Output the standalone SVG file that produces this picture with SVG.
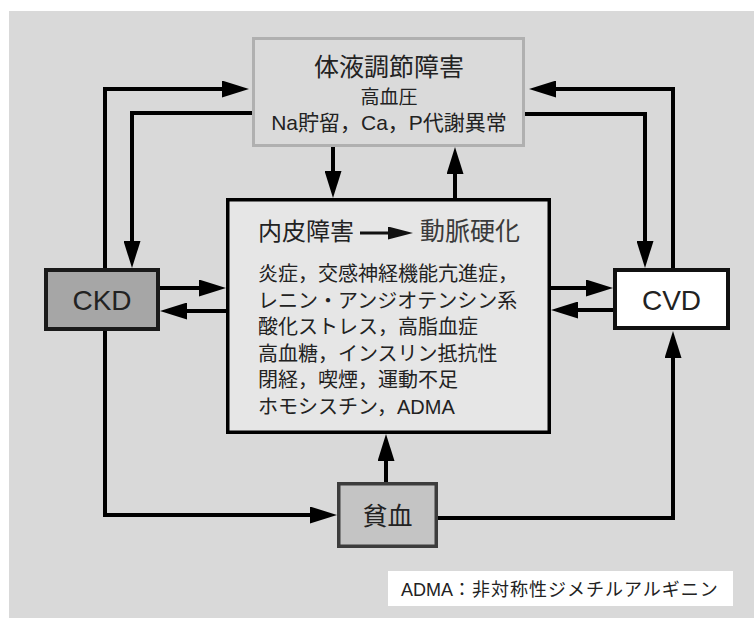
<svg xmlns="http://www.w3.org/2000/svg" width="754" height="618" viewBox="0 0 754 618">
  <style>
    .ln { fill: none; stroke: #000; stroke-width: 4; stroke-linejoin: miter; }
    .jp { font-family: "Liberation Sans", "Noto Sans CJK JP", sans-serif; fill: #222; }
    .lat { font-family: "Liberation Sans", Arial, sans-serif; fill: #222; }
  </style>
  <defs>
    <marker id="ah" markerUnits="userSpaceOnUse" viewBox="0 0 27 17" markerWidth="27" markerHeight="17" refX="12" refY="8.5" orient="auto">
      <path d="M0,0 L27,8.5 L0,17 Z" fill="#000"/>
    </marker>
    <marker id="ah2" markerUnits="userSpaceOnUse" viewBox="0 0 25 13" markerWidth="25" markerHeight="13" refX="10" refY="6.5" orient="auto">
      <path d="M0,0 L25,6.5 L0,13 Z" fill="#111"/>
    </marker>
  </defs>

  <rect x="0" y="0" width="754" height="618" fill="#ffffff"/>
  <rect x="9" y="11" width="745" height="607" fill="#d9d9d9"/>

  <g id="connectors">
    <path class="ln" d="M105,270 V89 H234" marker-end="url(#ah)"/>
    <path class="ln" d="M252,113 H132 V253" marker-end="url(#ah)"/>
    <path class="ln" d="M333,147 V183" marker-end="url(#ah)"/>
    <path class="ln" d="M455,198 V162" marker-end="url(#ah)"/>
    <path class="ln" d="M673,270 V89 H544" marker-end="url(#ah)"/>
    <path class="ln" d="M525,114 H645 V253" marker-end="url(#ah)"/>
    <path class="ln" d="M160,288 H211" marker-end="url(#ah)"/>
    <path class="ln" d="M226,311 H175" marker-end="url(#ah)"/>
    <path class="ln" d="M551,288 H598" marker-end="url(#ah)"/>
    <path class="ln" d="M613,310 H566" marker-end="url(#ah)"/>
    <path class="ln" d="M386,482 V449" marker-end="url(#ah)"/>
    <path class="ln" d="M438,518 H673 V346" marker-end="url(#ah)"/>
    <path class="ln" d="M105,331 V515 H322" marker-end="url(#ah)"/>
  </g>

  <g id="fluid">
    <rect x="253.5" y="38.5" width="270" height="107" fill="#dadada" stroke="#b0b0b0" stroke-width="3"/>
    <text class="jp" x="389" y="76" font-size="25" text-anchor="middle">体液調節障害</text>
    <text class="jp" x="389" y="104" font-size="19" text-anchor="middle">高血圧</text>
    <text class="jp" x="389" y="130" font-size="21" text-anchor="middle">Na貯留，Ca，P代謝異常</text>
  </g>

  <g id="center">
    <rect x="227.75" y="199.75" width="321.5" height="232.5" fill="#e6e6e6" stroke="#000" stroke-width="3.5"/>
    <text class="jp" x="258" y="240" font-size="24">内皮障害</text>
    <path d="M360,233 H398" fill="none" stroke="#111" stroke-width="3.2" marker-end="url(#ah2)"/>
    <text class="jp" x="420" y="240" font-size="25" fill="#3a3a3a" style="fill:#3a3a3a">動脈硬化</text>
    <g class="jp" font-size="20">
      <text class="jp" x="258" y="281">炎症，交感神経機能亢進症，</text>
      <text class="jp" x="258" y="307.6">レニン・アンジオテンシン系</text>
      <text class="jp" x="258" y="334.2">酸化ストレス，高脂血症</text>
      <text class="jp" x="258" y="360.8">高血糖，インスリン抵抗性</text>
      <text class="jp" x="258" y="387.4">閉経，喫煙，運動不足</text>
      <text class="jp" x="258" y="414">ホモシスチン，ADMA</text>
    </g>
  </g>

  <g id="ckd">
    <rect x="46" y="270" width="112" height="59" fill="#a6a6a6" stroke="#1a1a1a" stroke-width="4"/>
    <text class="lat" x="102" y="310" font-size="28" text-anchor="middle">CKD</text>
  </g>

  <g id="cvd">
    <rect x="615" y="270" width="113" height="58" fill="#ffffff" stroke="#111" stroke-width="4"/>
    <text class="lat" x="671.5" y="310" font-size="28" text-anchor="middle">CVD</text>
  </g>

  <g id="anemia">
    <rect x="338.75" y="483.75" width="97.5" height="62.5" fill="#c4c4c4" stroke="#3c3c3c" stroke-width="3.5"/>
    <text class="jp" x="387.5" y="525" font-size="25" text-anchor="middle">貧血</text>
  </g>

  <g id="footnote">
    <rect x="388" y="571" width="345" height="35" fill="#ffffff"/>
    <text class="jp" x="401" y="596" font-size="18">ADMA<tspan letter-spacing="1">：非対称性ジメチルアルギニン</tspan></text>
  </g>
</svg>
